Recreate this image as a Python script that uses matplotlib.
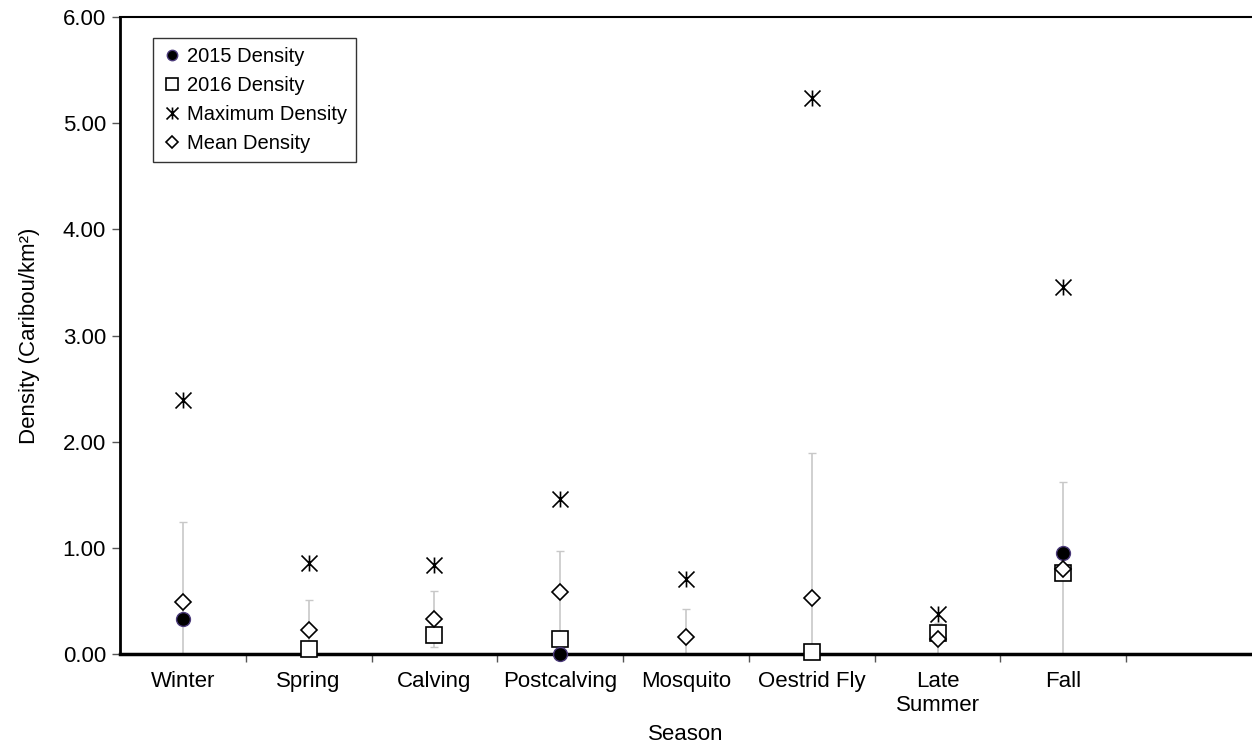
"""
Seasonal caribou density: 2015, 2016, maximum and mean (+/- SD) per season.
"""

import matplotlib.pyplot as plt
import numpy as np
from matplotlib.path import Path

plt.rcParams['font.family'] = ['Liberation Sans', 'DejaVu Sans']

seasons = ['Winter', 'Spring', 'Calving', 'Postcalving', 'Mosquito',
           'Oestrid Fly', 'Late\nSummer', 'Fall']

density_2015 = [0.33, np.nan, np.nan, 0.00, np.nan, np.nan, np.nan, 0.95]
density_2016 = [np.nan, 0.05, 0.18, 0.14, np.nan, 0.02, 0.20, 0.76]
density_max = [2.39, 0.86, 0.84, 1.46, 0.71, 5.24, 0.38, 3.46]
density_mean = [0.49, 0.23, 0.33, 0.58, 0.16, 0.53, 0.14, 0.80]
density_sd = [0.75, 0.28, 0.26, 0.39, 0.26, 1.36, 0.15, 0.82]

# vertical bar crossed by an X, like the spreadsheet "star" marker
star = Path([(0, -1), (0, 1), (-1, -1), (1, 1), (-1, 1), (1, -1)],
            [Path.MOVETO, Path.LINETO, Path.MOVETO, Path.LINETO,
             Path.MOVETO, Path.LINETO])


def main():
    fig = plt.figure(figsize=(12.52, 7.44), dpi=100)
    ax = fig.add_axes([0.0958, 0.121, 0.9042, 0.856])

    x = np.arange(len(seasons))

    # SD bars first so the markers sit on top
    ax.errorbar(x, density_mean, yerr=density_sd, fmt='none',
                ecolor='#c8c8c8', elinewidth=1.2, capsize=3, capthick=1,
                zorder=2)

    ax.plot(x, density_2015, linestyle='none', marker='o', markersize=10,
            markerfacecolor='black', markeredgecolor='#4b3a7a',
            markeredgewidth=1, label='2015 Density', zorder=4, clip_on=False)
    ax.plot(x, density_2016, linestyle='none', marker='s', markersize=11,
            markerfacecolor='white', markeredgecolor='black',
            markeredgewidth=1.2, label='2016 Density', zorder=3, clip_on=False)
    ax.plot(x, density_max, linestyle='none', marker=star, markersize=11.5,
            color='black', markeredgewidth=1.2, label='Maximum Density',
            zorder=4)
    ax.plot(x, density_mean, linestyle='none', marker='D', markersize=8.5,
            markerfacecolor='white', markeredgecolor='black',
            markeredgewidth=1.2, label='Mean Density', zorder=5)

    ax.set_xlim(-0.5, 8.5)
    ax.set_ylim(0, 6)

    ax.set_xticks(x)
    ax.set_xticklabels(seasons, fontsize=16)
    ax.set_xticks(np.arange(0.5, 8.0, 1.0), minor=True)
    ax.tick_params(axis='x', which='major', length=0, pad=12)
    ax.tick_params(axis='x', which='minor', length=6, width=1,
                   color='#555555', direction='out')

    ax.set_yticks(np.arange(0, 7, 1))
    ax.set_yticklabels([f'{v:.2f}' for v in range(7)], fontsize=16)
    ax.tick_params(axis='y', length=6, width=1, color='#555555',
                   direction='out', pad=4)

    ax.spines['right'].set_visible(False)
    ax.spines['left'].set_linewidth(2)
    ax.spines['bottom'].set_linewidth(2.5)
    ax.spines['top'].set_linewidth(1.5)

    ax.set_xlabel('Season', fontsize=16, labelpad=6)
    ax.set_ylabel('Density (Caribou/km²)', fontsize=16, labelpad=16)

    leg = ax.legend(loc='upper left', bbox_to_anchor=(0.029, 0.967),
                    fontsize=14.5, frameon=True, fancybox=False,
                    borderaxespad=0, handletextpad=0.25, handlelength=1.0,
                    labelspacing=0.5, markerscale=0.75, borderpad=0.45)
    leg.get_frame().set_edgecolor('black')
    leg.get_frame().set_linewidth(1)

    fig.savefig('out.png', dpi=100)
    plt.close(fig)


if __name__ == '__main__':
    main()
